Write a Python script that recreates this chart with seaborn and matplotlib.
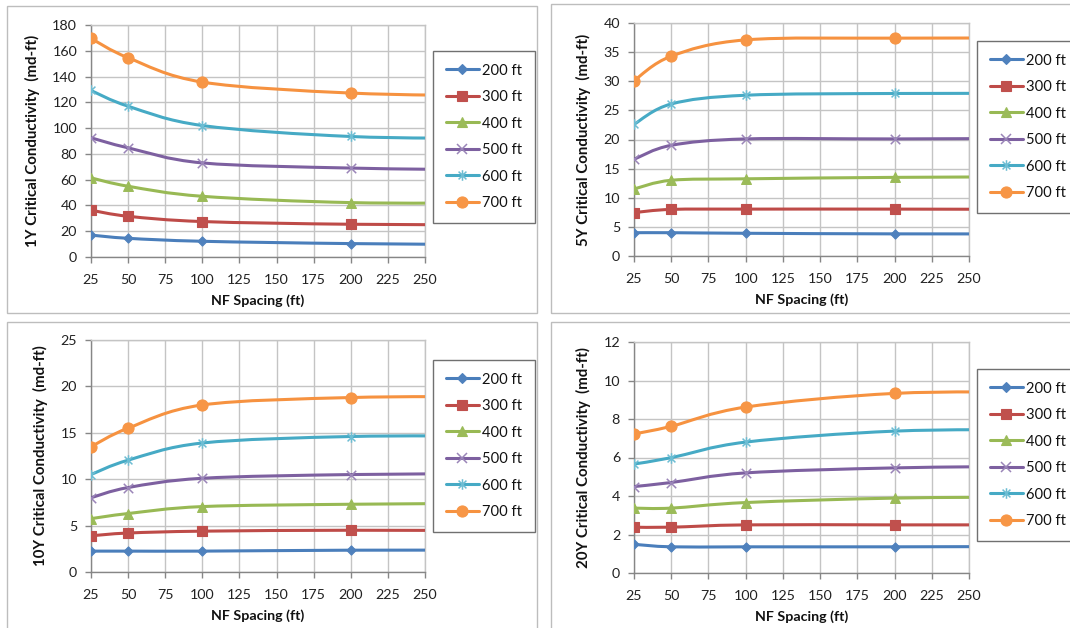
import numpy as np
import matplotlib
matplotlib.use("Agg")
import matplotlib.pyplot as plt
import seaborn as sns
import pandas as pd
from matplotlib.path import Path
from matplotlib.patches import PathPatch, Rectangle
from matplotlib.lines import Line2D

# ---------------------------------------------------------------- data
nf_spacing = [25, 50, 100, 200, 300]
frac_lengths = ["200 ft", "300 ft", "400 ft", "500 ft", "600 ft", "700 ft"]

cond_1y = [
    [17.0, 14.5, 12.2, 10.4, 9.6],
    [36.3, 31.6, 27.5, 25.4, 25.0],
    [61.4, 54.9, 47.1, 42.2, 42.0],
    [92.5, 84.7, 73.0, 69.0, 67.5],
    [129.2, 117.0, 102.0, 93.5, 92.0],
    [169.6, 154.6, 135.7, 127.2, 125.0],
]
cond_5y = [
    [4.0, 4.0, 3.9, 3.8, 3.8],
    [7.45, 8.0, 8.05, 8.05, 8.0],
    [11.5, 13.0, 13.25, 13.5, 13.6],
    [16.6, 19.0, 20.1, 20.1, 20.2],
    [22.6, 26.1, 27.6, 27.9, 27.9],
    [30.1, 34.3, 37.1, 37.4, 37.4],
]
cond_10y = [
    [2.25, 2.25, 2.25, 2.35, 2.35],
    [3.9, 4.2, 4.4, 4.5, 4.45],
    [5.75, 6.3, 7.05, 7.3, 7.4],
    [8.0, 9.1, 10.1, 10.5, 10.6],
    [10.5, 12.05, 13.9, 14.6, 14.65],
    [13.5, 15.5, 18.0, 18.8, 18.9],
]
cond_20y = [
    [1.49, 1.36, 1.36, 1.36, 1.38],
    [2.38, 2.38, 2.5, 2.5, 2.5],
    [3.37, 3.37, 3.66, 3.89, 3.95],
    [4.49, 4.7, 5.2, 5.46, 5.55],
    [5.66, 5.99, 6.8, 7.37, 7.45],
    [7.22, 7.62, 8.62, 9.33, 9.4],
]

panel_labels = [
    "1Y Critical Conductivity  (md-ft)",
    "5Y Critical Conductivity  (md-ft)",
    "10Y Critical Conductivity  (md-ft)",
    "20Y Critical Conductivity  (md-ft)",
]
y_ticks = [
    list(range(0, 181, 20)),
    list(range(0, 41, 5)),
    list(range(0, 26, 5)),
    list(range(0, 13, 2)),
]
x_ticks = list(range(25, 251, 25))
x_label = "NF Spacing (ft)"

# ---------------------------------------------------------------- style
sns.set_theme(style="white")
plt.rcParams["font.family"] = ["Lato", "DejaVu Sans"]

line_colors = ["#4A7EBB", "#BE4B48", "#98B954", "#7D60A0", "#46AAC5", "#F69240"]
marker_colors = ["#4F81BD", "#C0504D", "#9BBB59", "#9A85B8", "#6DBDD3", "#F79646"]

star = Path(
    [(-1, -1), (1, 1), (-1, 1), (1, -1), (0, -1.35), (0, 1.35)],
    [Path.MOVETO, Path.LINETO, Path.MOVETO, Path.LINETO, Path.MOVETO, Path.LINETO],
)
markers = ["D", "s", "^", "x", star, "o"]
marker_sizes = [22, 44, 50, 46, 58, 64]
marker_lw = [0.8, 0.8, 0.8, 1.1, 1.1, 0.8]

W, H = 1070, 628
fig = plt.figure(figsize=(W / 100, H / 100), dpi=100)


def px_rect(x0, y0, x1, y1):
    return [x0 / W, 1 - y1 / H, (x1 - x0) / W, (y1 - y0) / H]


# outer chart frames
for (x0, y0, x1, y1) in [(7, 6, 537, 313), (551, 4, 1075, 313),
                         (7, 322, 537, 633), (551, 322, 1075, 633)]:
    fig.patches.append(Rectangle((x0 / W, 1 - y1 / H), (x1 - x0) / W, (y1 - y0) / H,
                                 transform=fig.transFigure, fill=False,
                                 edgecolor="#BDBDBD", lw=1.0, zorder=-1))

axes_px = [(91, 25, 425, 257), (634, 23, 969, 256),
           (91, 340, 425, 572), (634, 342, 969, 573)]
legend_top_px = [51, 41, 360, 369]
datasets = [cond_1y, cond_5y, cond_10y, cond_20y]


def smooth_path(xs, ys):
    """Cubic Bezier path through the points (Catmull-Rom style control points)."""
    p = np.column_stack([xs, ys]).astype(float)
    n = len(p)
    verts = [p[0]]
    codes = [Path.MOVETO]
    for i in range(n - 1):
        prev = p[i - 1] if i > 0 else p[i]
        nxt = p[i + 2] if i + 2 < n else p[i + 1]
        c1 = p[i] + (p[i + 1] - prev) / 6.0
        c2 = p[i + 1] - (nxt - p[i]) / 6.0
        verts += [c1, c2, p[i + 1]]
        codes += [Path.CURVE4] * 3
    return Path(verts, codes)


for k, (data, rect) in enumerate(zip(datasets, axes_px)):
    ax = fig.add_axes(px_rect(*rect))
    ax.set_facecolor("white")
    for j, series in enumerate(data):
        ax.add_patch(PathPatch(smooth_path(nf_spacing, series), fill=False,
                               edgecolor=line_colors[j], lw=2.2,
                               capstyle="round", joinstyle="round", zorder=3))
        df = pd.DataFrame({"x": nf_spacing, "y": series})
        sns.scatterplot(data=df, x="x", y="y", ax=ax, marker=markers[j],
                        s=marker_sizes[j], color=marker_colors[j],
                        edgecolor=marker_colors[j], linewidth=marker_lw[j],
                        zorder=4, legend=False, clip_on=True)

    ax.set_xlim(25, 250)
    ax.set_ylim(y_ticks[k][0], y_ticks[k][-1])
    ax.set_xticks(x_ticks)
    ax.set_yticks(y_ticks[k])
    ax.grid(True, color="#C4C4C4", lw=1.0)
    ax.set_axisbelow(True)
    for side in ["left", "bottom"]:
        ax.spines[side].set_color("#868686")
        ax.spines[side].set_linewidth(1.0)
    for side in ["top", "right"]:
        ax.spines[side].set_color("#C4C4C4")
        ax.spines[side].set_linewidth(1.0)
    ax.tick_params(axis="both", which="major", bottom=True, left=True,
                   direction="out", length=4, width=1.0, color="#868686",
                   labelsize=10.3, labelcolor="#222222")
    ax.tick_params(axis="x", pad=8)
    ax.tick_params(axis="y", pad=6)
    ax.set_xlabel(x_label, fontsize=10.3, fontweight="bold", color="#111111", labelpad=6)
    ax.set_ylabel(panel_labels[k], fontsize=10.8, fontweight="bold", color="#111111",
                  labelpad=9)

    handles = [
        Line2D([], [], color=line_colors[j], lw=2.2, marker=markers[j],
               markersize=np.sqrt(marker_sizes[j]), markerfacecolor=marker_colors[j],
               markeredgecolor=marker_colors[j], markeredgewidth=marker_lw[j])
        for j in range(len(frac_lengths))
    ]
    x0, y0, x1, y1 = rect
    top = (y1 - legend_top_px[k]) / (y1 - y0)
    left = (x1 + 8 - x0) / (x1 - x0)
    leg = ax.legend(handles, frac_lengths, loc="upper left",
                    bbox_to_anchor=(left, top), borderaxespad=0.0,
                    fontsize=10.6, handlelength=2.3, handletextpad=0.2,
                    labelspacing=0.85, borderpad=0.85, frameon=True,
                    fancybox=False, framealpha=1.0, edgecolor="#707070")
    leg.get_frame().set_linewidth(1.0)
    for t in leg.get_texts():
        t.set_color("#111111")

fig.savefig("out.png", dpi=100, facecolor="white")
